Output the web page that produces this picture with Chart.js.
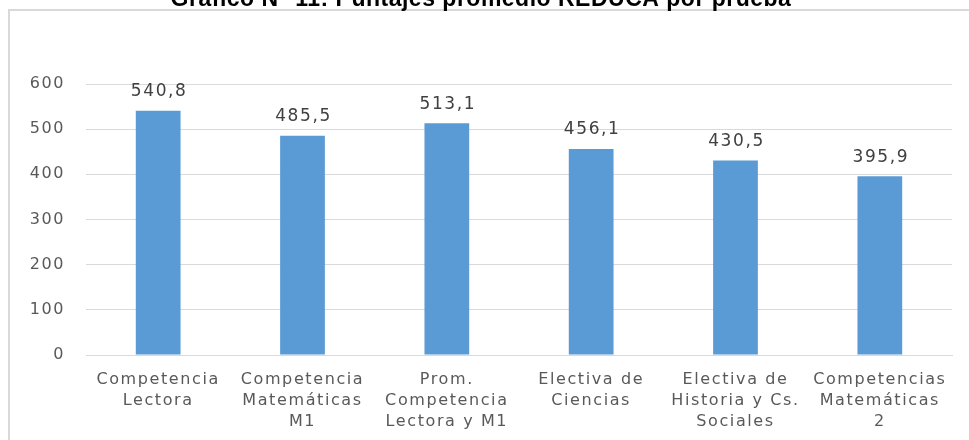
<!DOCTYPE html>
<html>
<head>
<meta charset="utf-8">
<script src="https://cdn.jsdelivr.net/npm/chart.js@4"></script>
<style>
  html, body { margin: 0; padding: 0; background: #fff; overflow: hidden; }
</style>
</head>
<body>
<canvas id="chart" width="969" height="440"></canvas>
<script>
const chartTitle = 'Gráfico N° 11: Puntajes promedio REDUCA por prueba';

const categories = [
  ['Competencia', 'Lectora'],
  ['Competencia', 'Matemáticas', 'M1'],
  ['Prom.', 'Competencia', 'Lectora y M1'],
  ['Electiva de', 'Ciencias'],
  ['Electiva de', 'Historia y Cs.', 'Sociales'],
  ['Competencias', 'Matemáticas', '2']
];

const scores = [540.8, 485.5, 513.1, 456.1, 430.5, 395.9];

const yMin = 0;
const yMax = 600;
const yStep = 100;

const fontFamily = '"DejaVu Sans", sans-serif';
const textSpread = '1.6px';

// the source text is wide-set, so spread all canvas text a bit
// (canvas state is reset when its size is set, so apply it again each pass)
const spacing = {
  id: 'spacing',
  beforeUpdate(chart) { chart.ctx.letterSpacing = textSpread; },
  beforeLayout(chart) { chart.ctx.letterSpacing = textSpread; },
  beforeDraw(chart) { chart.ctx.letterSpacing = textSpread; }
};

// frame lines and a title cut off by the top of the picture
const framePlugin = {
  id: 'frame',
  beforeDraw(chart) {
    const ctx = chart.ctx;
    ctx.save();
    ctx.strokeStyle = '#d9d9d9';
    ctx.lineWidth = 2;
    ctx.beginPath();
    ctx.moveTo(9, 440);
    ctx.lineTo(9, 10);
    ctx.lineTo(969, 10);
    ctx.stroke();
    ctx.restore();
  },
  afterDraw(chart) {
    const ctx = chart.ctx;
    ctx.save();
    ctx.letterSpacing = '0.5px';
    ctx.font = 'bold 23px "Liberation Sans", Arial, sans-serif';
    ctx.fillStyle = '#000';
    ctx.textAlign = 'center';
    ctx.textBaseline = 'alphabetic';
    ctx.fillText(chartTitle, 481, 6);
    ctx.restore();
  }
};

// value labels above the bars, with decimal comma
const valueLabels = {
  id: 'valueLabels',
  afterDatasetsDraw(chart) {
    const ctx = chart.ctx;
    const meta = chart.getDatasetMeta(0);
    ctx.save();
    ctx.font = '17px ' + fontFamily;
    ctx.fillStyle = '#404040';
    ctx.textAlign = 'center';
    ctx.textBaseline = 'middle';
    meta.data.forEach((bar, i) => {
      const txt = scores[i].toFixed(1).replace('.', ',');
      ctx.fillText(txt, bar.x + 1, bar.y - 19);
    });
    ctx.restore();
  }
};

const chart = new Chart(document.getElementById('chart'), {
  type: 'bar',
  data: {
    labels: categories,
    datasets: [{
      data: scores,
      backgroundColor: '#5b9bd5',
      borderWidth: 0,
      barPercentage: 0.31,
      categoryPercentage: 1
    }]
  },
  options: {
    responsive: false,
    animation: false,
    devicePixelRatio: 1,
    layout: { padding: { top: 84, right: 17, left: 0, bottom: 0 } },
    plugins: {
      legend: { display: false },
      title: { display: false },
      tooltip: { enabled: false }
    },
    scales: {
      x: {
        grid: { display: false, drawTicks: false },
        border: { display: true, color: '#d9d9d9', width: 1 },
        ticks: {
          color: '#595959',
          font: { family: fontFamily, size: 16, lineHeight: 1.32 },
          padding: 14,
          maxRotation: 0,
          autoSkip: false
        },
        afterFit(scale) { scale.height = 85; }
      },
      y: {
        min: yMin,
        max: yMax,
        grid: { color: '#d9d9d9', drawTicks: false },
        border: { display: false },
        ticks: {
          stepSize: yStep,
          color: '#595959',
          font: { family: fontFamily, size: 16 },
          padding: 21
        },
        afterFit(scale) { scale.width = 86; }
      }
    }
  },
  plugins: [spacing, framePlugin, valueLabels]
});
</script>
</body>
</html>
